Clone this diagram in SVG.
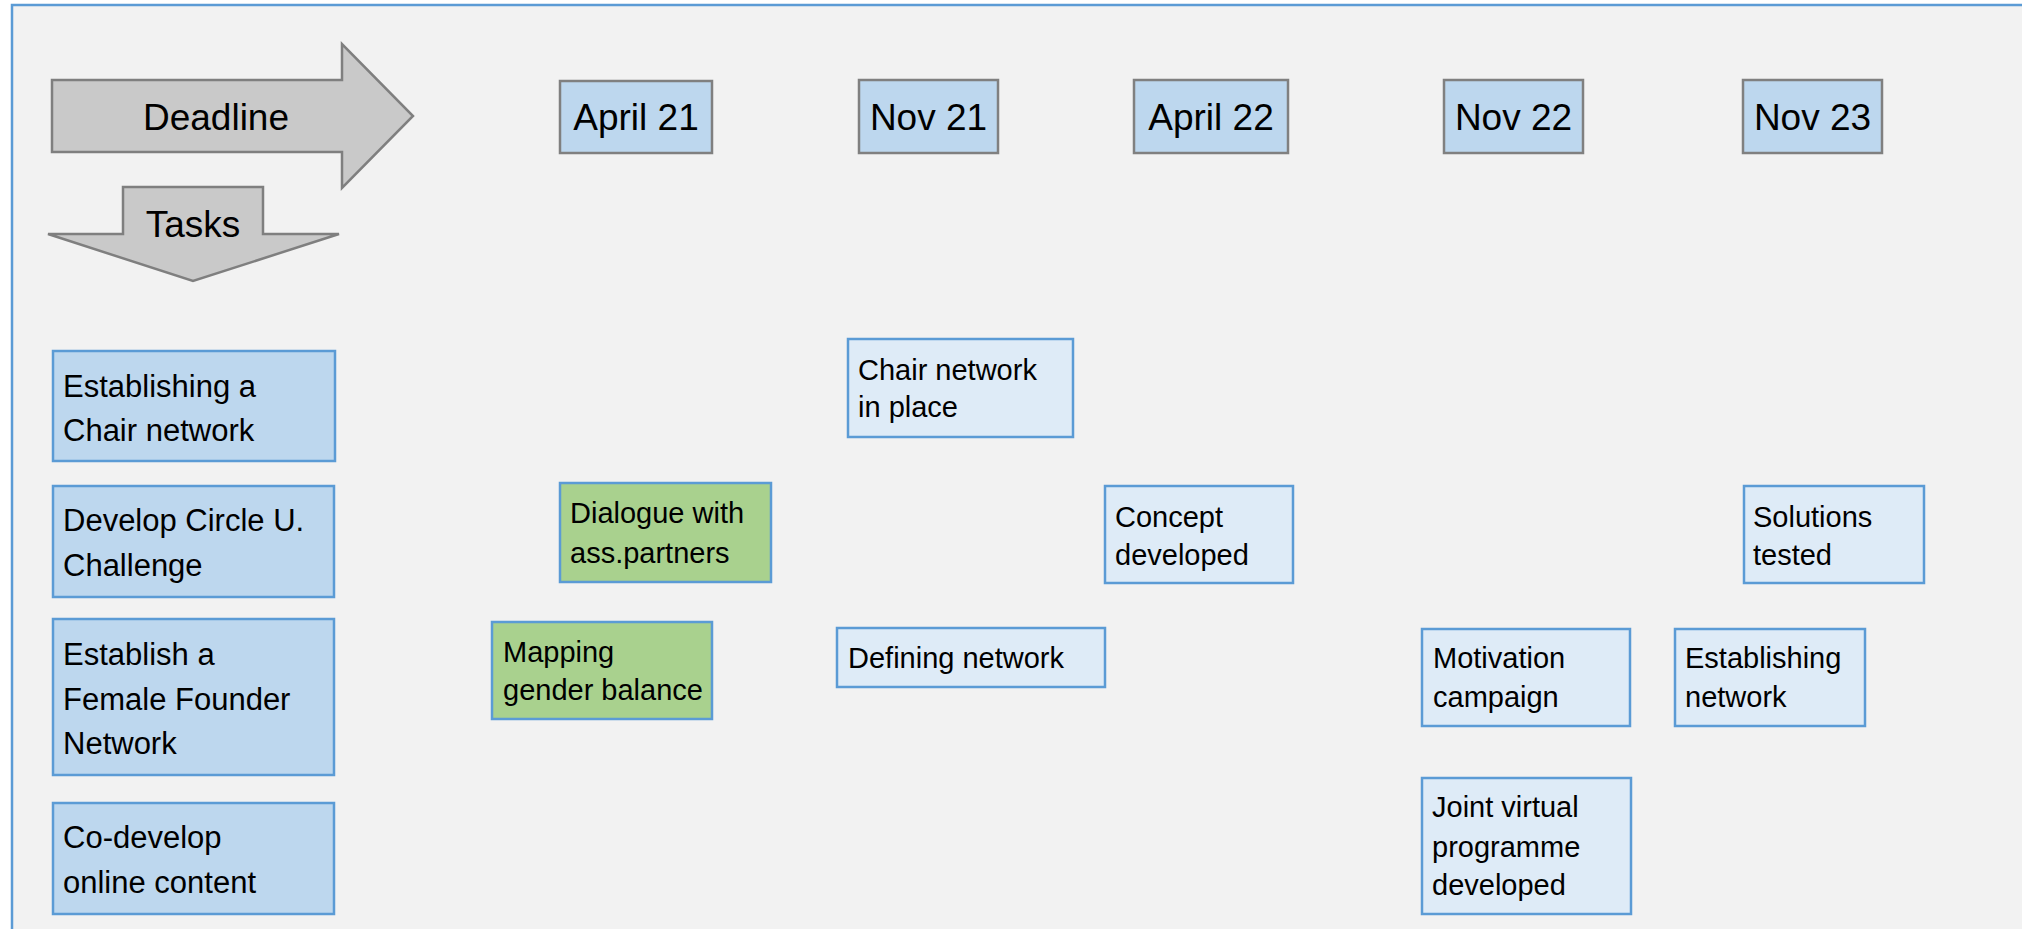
<svg xmlns="http://www.w3.org/2000/svg" width="2022" height="929" viewBox="0 0 2022 929">
<style>
text{font-family:"Liberation Sans",Arial,sans-serif;fill:#000}
.hdr{font-size:37px;text-anchor:middle}
.task{font-size:31px}
.ms{font-size:29px}
.arrow{fill:#c9c9c9;stroke:#7f7f7f;stroke-width:2.5}
.date{fill:#bdd7ee;stroke:#808080;stroke-width:2.5}
.tbox{fill:#bdd7ee;stroke:#5b9bd5;stroke-width:2.5}
.green{fill:#a9d18e;stroke:#5b9bd5;stroke-width:2.5}
.light{fill:#deebf7;stroke:#5b9bd5;stroke-width:2.5}
</style>
<rect width="2022" height="929" fill="#ffffff"/>
<rect x="12" y="5" width="2040" height="950" fill="#f2f2f2" stroke="#5b9bd5" stroke-width="2.5"/>
<g id="deadline-arrow">
<path class="arrow" d="M52,80 H342 V44 L413,116 L342,188 V152 H52 Z"/>
<text class="hdr" x="216" y="130">Deadline</text>
</g>
<g id="tasks-arrow">
<path class="arrow" d="M123,187 H263 V234 H339 L193,281 L48,234 H123 Z"/>
<text class="hdr" x="193" y="237">Tasks</text>
</g>
<g id="date-april21"><rect class="date" x="560" y="81" width="152" height="72"/><text class="hdr" x="636" y="130">April 21</text></g>
<g id="date-nov21"><rect class="date" x="859" y="80" width="139" height="73"/><text class="hdr" x="928.5" y="130">Nov 21</text></g>
<g id="date-april22"><rect class="date" x="1134" y="80" width="154" height="73"/><text class="hdr" x="1211" y="130">April 22</text></g>
<g id="date-nov22"><rect class="date" x="1444" y="80" width="139" height="73"/><text class="hdr" x="1513.5" y="130">Nov 22</text></g>
<g id="date-nov23"><rect class="date" x="1743" y="80" width="139" height="73"/><text class="hdr" x="1812.5" y="130">Nov 23</text></g>
<g id="task-chair"><rect class="tbox" x="53" y="351" width="282" height="110"/><text class="task" x="63" y="397">Establishing a</text><text class="task" x="63" y="441">Chair network</text></g>
<g id="task-challenge"><rect class="tbox" x="53" y="486" width="281" height="111"/><text class="task" x="63" y="531">Develop Circle U.</text><text class="task" x="63" y="576">Challenge</text></g>
<g id="task-female"><rect class="tbox" x="53" y="619" width="281" height="156"/><text class="task" x="63" y="665">Establish a</text><text class="task" x="63" y="710">Female Founder</text><text class="task" x="63" y="754">Network</text></g>
<g id="task-online"><rect class="tbox" x="53" y="803" width="281" height="111"/><text class="task" x="63" y="848">Co-develop</text><text class="task" x="63" y="893">online content</text></g>
<g id="ms-dialogue"><rect class="green" x="560" y="483" width="211" height="99"/><text class="ms" x="570" y="523">Dialogue with</text><text class="ms" x="570" y="563">ass.partners</text></g>
<g id="ms-mapping"><rect class="green" x="492" y="622" width="220" height="97"/><text class="ms" x="503" y="662">Mapping</text><text class="ms" x="503" y="700">gender balance</text></g>
<g id="ms-chair-place"><rect class="light" x="848" y="339" width="225" height="98"/><text class="ms" x="858" y="380">Chair network</text><text class="ms" x="858" y="417">in place</text></g>
<g id="ms-defining"><rect class="light" x="837" y="628" width="268" height="59"/><text class="ms" x="848" y="668">Defining network</text></g>
<g id="ms-concept"><rect class="light" x="1105" y="486" width="188" height="97"/><text class="ms" x="1115" y="527">Concept</text><text class="ms" x="1115" y="565">developed</text></g>
<g id="ms-motivation"><rect class="light" x="1422" y="629" width="208" height="97"/><text class="ms" x="1433" y="668">Motivation</text><text class="ms" x="1433" y="707">campaign</text></g>
<g id="ms-joint"><rect class="light" x="1422" y="778" width="209" height="136"/><text class="ms" x="1432" y="817">Joint virtual</text><text class="ms" x="1432" y="857">programme</text><text class="ms" x="1432" y="895">developed</text></g>
<g id="ms-solutions"><rect class="light" x="1744" y="486" width="180" height="97"/><text class="ms" x="1753" y="527">Solutions</text><text class="ms" x="1753" y="565">tested</text></g>
<g id="ms-establishing"><rect class="light" x="1675" y="629" width="190" height="97"/><text class="ms" x="1685" y="668">Establishing</text><text class="ms" x="1685" y="707">network</text></g>
<g id="connectors"></g>
</svg>
